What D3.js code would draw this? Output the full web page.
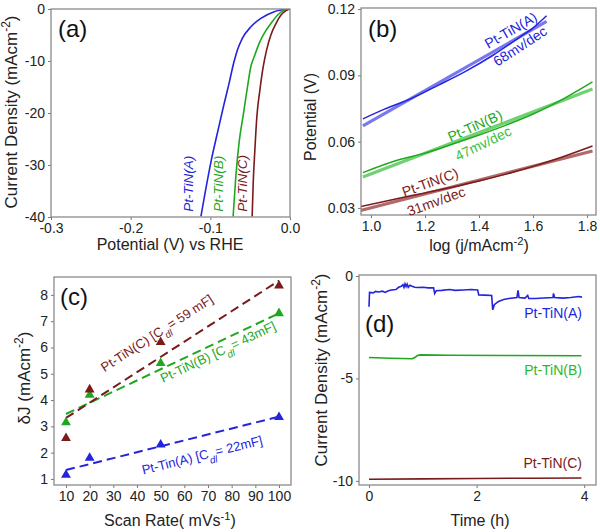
<!DOCTYPE html>
<html><head><meta charset="utf-8">
<script src="https://cdn.jsdelivr.net/npm/d3@7"></script>
<style>
body{margin:0;background:#fff}
text{font-family:"Liberation Sans",Arial,Helvetica,sans-serif}
</style></head><body>
<svg id="fig" width="600" height="532"></svg>
<script>
// ---------- DATA ----------
const series = ["Pt-TiN(A)", "Pt-TiN(B)", "Pt-TiN(C)"];
const colors = ["#2424dc", "#1ea81e", "#7a1a1a"];
const fitColors = ["#7878f0", "#72d072", "#b06a6a"];

// (a) LSV polarization curves: [potential V, current density mA/cm2]
const lsvA = [[-0.1118,-39.9],[-0.1059,-34.8],[-0.0987,-29],[-0.0912,-23.9],[-0.0836,-18.8],[-0.0765,-14.3],[-0.0702,-10.1],[-0.066,-7.9],[-0.0597,-5.6],[-0.049,-3.4],[-0.0366,-1.8],[-0.0198,-0.51],[-0.0029,0]];
const lsvB = [[-0.0714,-39.9],[-0.068,-32.2],[-0.064,-25.8],[-0.0584,-20.1],[-0.0534,-15.0],[-0.0492,-11.1],[-0.045,-9.2],[-0.0387,-6.6],[-0.0324,-4.7],[-0.024,-2.8],[-0.0155,-1.15],[-0.0071,-0.19],[-0.0009,0]];
const lsvC = [[-0.0475,-39.9],[-0.0462,-33.5],[-0.0441,-27.1],[-0.0416,-20.7],[-0.0378,-15.6],[-0.0336,-11.1],[-0.0294,-7.9],[-0.024,-5.0],[-0.0176,-2.8],[-0.0113,-1.15],[-0.005,-0.32],[0,0]];
const aXTicks = [-0.3,-0.2,-0.1,0.0];
const aYTicks = [0,-10,-20,-30,-40];

// (b) Tafel plots: measured [log j, V] and linear fits
const tafelA = [[0.97,0.0703],[1.05,0.0747],[1.15,0.0796],[1.25,0.0856],[1.35,0.0918],[1.45,0.0990],[1.55,0.1072],[1.6,0.1115],[1.65,0.1170]];
const tafelB = [[0.97,0.046],[1.1,0.0517],[1.2,0.0548],[1.3,0.0588],[1.4,0.0630],[1.5,0.0675],[1.6,0.0725],[1.7,0.0786],[1.82,0.0871]];
const tafelC = [[0.96,0.0306],[1.1,0.0343],[1.2,0.0368],[1.3,0.0394],[1.4,0.0422],[1.5,0.0453],[1.6,0.0488],[1.7,0.0527],[1.82,0.0580]];
const fitA = [[0.97,0.0671],[1.65,0.1144]];
const fitB = [[0.97,0.0440],[1.82,0.0838]];
const fitC = [[0.96,0.0288],[1.82,0.0558]];
const tafelSlopes = ["68mv/dec","47mv/dec","31mv/dec"];
const bXTicks = [1.0,1.2,1.4,1.6,1.8];
const bYTicks = [0.03,0.06,0.09,0.12];

// (c) double-layer capacitance
const scanRates = [10,20,50,100];
const djA = [1.15,1.8,2.3,3.35];
const djB = [3.15,4.2,5.4,7.3];
const djC = [2.55,4.4,6.2,8.35];
const cdlFitA = [[10,1.34],[100,3.37]];
const cdlFitB = [[10,3.47],[100,7.30]];
const cdlFitC = [[10,3.32],[100,8.54]];
const cdlLabels = ["Pt-Tin(A) [C","Pt-TiN(B) [C","Pt-TiN(C) [C"];
const cdlValues = ["= 22mF]","= 43mF]","= 59 mF]"];
const cXTicks = [10,20,30,40,50,60,70,80,90,100];
const cYTicks = [1,2,3,4,5,6,7,8];

// (d) chronoamperometry stability: [time h, current density]
const stabA = [[0,-1.5],[0.01,-0.8],[0.08,-0.82],[0.12,-0.75],[0.18,-0.78],[0.25,-0.74],[0.3,-0.8],[0.36,-0.72],[0.42,-0.68],[0.5,-0.66],[0.55,-0.55],[0.6,-0.5],[0.63,-0.42],[0.65,-0.55],[0.67,-0.38],[0.69,-0.52],[0.71,-0.4],[0.73,-0.55],[0.76,-0.45],[0.8,-0.5],[0.85,-0.55],[0.9,-0.56],[1.0,-0.55],[1.1,-0.58],[1.2,-0.57],[1.22,-0.85],[1.25,-0.72],[1.35,-0.7],[1.5,-0.66],[1.6,-0.7],[1.75,-0.68],[1.9,-0.66],[2.02,-0.68],[2.04,-0.92],[2.15,-0.93],[2.28,-0.95],[2.3,-1.65],[2.33,-1.4],[2.4,-1.25],[2.5,-1.15],[2.6,-1.1],[2.75,-1.05],[2.77,-0.7],[2.79,-1.05],[2.9,-1.08],[2.95,-0.95],[2.97,-1.1],[3.1,-1.1],[3.25,-1.07],[3.42,-1.05],[3.43,-0.85],[3.45,-1.05],[3.6,-1.08],[3.75,-1.05],[3.9,-1.0],[3.96,-1.03]];
const stabB = [[0,-3.98],[0.4,-4.01],[0.8,-4.04],[0.85,-3.98],[0.9,-3.88],[0.95,-3.85],[1.5,-3.87],[2.5,-3.88],[3.95,-3.89]];
const stabC = [[0,-9.92],[1,-9.9],[2,-9.88],[3,-9.87],[3.95,-9.86]];
const dXTicks = [0,2,4];
const dYTicks = [0,-5,-10];

// ---------- DRAWING ----------
const svg = d3.select("#fig");
const TICKFS = "14px", TITLEFS = "16px";

function frame(x, y) {
  const [x0,x1] = x.range(), [y1,y0] = y.range();
  svg.append("rect").attr("x",x0).attr("y",y0).attr("width",x1-x0).attr("height",y1-y0)
    .attr("fill","none").attr("stroke","#8a8a8a").attr("stroke-width",1.3);
}
function axes(x, y, xt, yt, xf, yf) {
  const [x0] = x.range(), [y1] = y.range();
  const gx = svg.append("g").attr("transform",`translate(0,${y1})`)
    .call(d3.axisBottom(x).tickValues(xt).tickFormat(xf).tickSize(3).tickSizeOuter(0).tickPadding(3));
  const gy = svg.append("g").attr("transform",`translate(${x0},0)`)
    .call(d3.axisLeft(y).tickValues(yt).tickFormat(yf).tickSize(3).tickSizeOuter(0).tickPadding(3));
  [gx,gy].forEach(g=>{
    g.select("path.domain").remove();
    g.selectAll("line").attr("stroke","#777");
    g.selectAll("text").attr("fill","#222").style("font-size",TICKFS).style("font-family",'"Liberation Sans",Arial,sans-serif');
  });
}
function clip(id, x, y) {
  const [x0,x1] = x.range(), [y1,y0] = y.range();
  svg.append("clipPath").attr("id",id).append("rect").attr("x",x0).attr("y",y0).attr("width",x1-x0).attr("height",y1-y0);
  return svg.append("g").attr("clip-path",`url(#${id})`);
}
function supText(sel, parts) {
  parts.forEach(([t,k])=>{
    const ts = sel.append("tspan").text(t);
    if (k==="sup") ts.attr("baseline-shift","super").style("font-size","70%");
    if (k==="sub") ts.attr("baseline-shift","sub").style("font-size","75%").style("font-style","italic");
  });
  return sel;
}
function panelLabel(t, x, y) {
  svg.append("text").attr("x",x).attr("y",y).text(t).style("font-size","24px").attr("fill","#111");
}

// ---- (a)
{
  const x = d3.scaleLinear().domain([-0.3,0]).range([51,290]);
  const y = d3.scaleLinear().domain([-40,0]).range([217,9]);
  axes(x,y,aXTicks,aYTicks,d=>d.toFixed(1),d=>String(d));
  const g = clip("clipA",x,y);
  const line = d3.line().x(d=>x(d[0])).y(d=>y(d[1])).curve(d3.curveMonotoneX);
  [lsvA,lsvB,lsvC].forEach((s,i)=>{
    g.append("path").attr("d",line(s)).attr("fill","none").attr("stroke",colors[i]).attr("stroke-width",1.6);
  });
  frame(x,y);
  const labX = [-0.1218,-0.0841,-0.054];
  series.forEach((s,i)=>{
    svg.append("text").attr("transform",`translate(${x(labX[i])},${y(-39)}) rotate(-90)`)
      .text(s).attr("fill",colors[i]).style("font-size","13.5px").style("font-style","italic");
  });
  svg.append("text").attr("x",170).attr("y",250).attr("text-anchor","middle").style("font-size",TITLEFS).attr("fill","#222").text("Potential (V) vs RHE");
  supText(svg.append("text").attr("transform","translate(17,112) rotate(-90)").attr("text-anchor","middle").style("font-size","17px").attr("fill","#222"),
    [["Current Density (mAcm","n"],["-2","sup"],[")","n"]]);
  panelLabel("(a)",58,37);
}

// ---- (b)
{
  const x = d3.scaleLinear().domain([0.963,1.833]).range([361,596]);
  const y = d3.scaleLinear().domain([0.0268,0.1205]).range([215,8]);
  axes(x,y,bXTicks,bYTicks,d=>d.toFixed(1),d=>d.toFixed(2));
  const g = clip("clipB",x,y);
  const line = d3.line().x(d=>x(d[0])).y(d=>y(d[1])).curve(d3.curveMonotoneX);
  [fitA,fitB,fitC].forEach((s,i)=>{
    g.append("path").attr("d",line(s)).attr("fill","none").attr("stroke",fitColors[i]).attr("stroke-width",3.2);
  });
  [tafelA,tafelB,tafelC].forEach((s,i)=>{
    g.append("path").attr("d",line(s)).attr("fill","none").attr("stroke",colors[i]).attr("stroke-width",1.5);
  });
  frame(x,y);
  const nameLab = [[1.518,0.1104,-30],[1.385,0.0672,-24],[1.219,0.0416,-20]];
  const slopeLab = [[1.552,0.1032,-33],[1.415,0.0592,-26],[1.241,0.0330,-20]];
  const slopeCols = [colors[0],"#3cbf3c",colors[2]];
  series.forEach((s,i)=>{
    const [a,b,r]=nameLab[i];
    svg.append("text").attr("transform",`translate(${x(a)},${y(b)}) rotate(${r})`).attr("text-anchor","middle")
      .attr("dy","0.35em").text(s).attr("fill",colors[i]).style("font-size","14px");
    const [c,d,q]=slopeLab[i];
    svg.append("text").attr("transform",`translate(${x(c)},${y(d)}) rotate(${q})`).attr("text-anchor","middle")
      .attr("dy","0.35em").text(tafelSlopes[i]).attr("fill",slopeCols[i]).style("font-size","14px");
  });
  supText(svg.append("text").attr("x",479).attr("y",251).attr("text-anchor","middle").style("font-size",TITLEFS).attr("fill","#222"),
    [["log (j/mAcm","n"],["-2","sup"],[")","n"]]);
  svg.append("text").attr("transform","translate(316,117) rotate(-90)").attr("text-anchor","middle").style("font-size","16px").attr("fill","#222").text("Potential (V)");
  panelLabel("(b)",368,37);
}

// ---- (c)
{
  const x = d3.scaleLinear().domain([4.93,105.07]).range([54,291]);
  const y = d3.scaleLinear().domain([0.77,8.68]).range([485,277]);
  axes(x,y,cXTicks,cYTicks,d=>String(d),d=>String(d));
  const line = d3.line().x(d=>x(d[0])).y(d=>y(d[1]));
  const fits = [cdlFitA,cdlFitB,cdlFitC];
  const vals = [djA,djB,djC];
  fits.forEach((s,i)=>{
    svg.append("path").attr("d",line(s)).attr("fill","none").attr("stroke",colors[i]).attr("stroke-width",2).attr("stroke-dasharray","9,5");
  });
  const tri = d3.symbol().type(d3.symbolTriangle).size(42);
  vals.forEach((v,i)=>{
    svg.append("g").selectAll("path").data(scanRates).join("path")
      .attr("d",tri).attr("transform",(d,j)=>`translate(${x(d)},${y(v[j])})`).attr("fill",colors[i]);
  });
  frame(x,y);
  const labPos = [[67.5,1.91],[74.2,5.83],[48.4,6.55]];
  labPos.forEach(([a,b],i)=>{
    const f = fits[i];
    const ang = Math.atan2(y(f[1][1])-y(f[0][1]), x(f[1][0])-x(f[0][0]))*180/Math.PI;
    const t = svg.append("text").attr("transform",`translate(${x(a)},${y(b)}) rotate(${ang})`).attr("text-anchor","middle")
      .attr("dy","0.35em").attr("fill",colors[i]).style("font-size","13px");
    supText(t,[[cdlLabels[i],"n"],["dl","sub"],[cdlValues[i],"n"]]);
  });
  supText(svg.append("text").attr("x",170).attr("y",526).attr("text-anchor","middle").style("font-size",TITLEFS).attr("fill","#222"),
    [["Scan Rate( mVs","n"],["-1","sup"],[")","n"]]);
  supText(svg.append("text").attr("transform","translate(30,378) rotate(-90)").attr("text-anchor","middle").style("font-size","17px").attr("fill","#222"),
    [["δJ (mAcm","n"],["-2","sup"],[")","n"]]);
  panelLabel("(c)",60,305);
}

// ---- (d)
{
  const x = d3.scaleLinear().domain([-0.186,4.22]).range([359,596]);
  const y = d3.scaleLinear().domain([-10.2,0.05]).range([485,275]);
  axes(x,y,dXTicks,dYTicks,d=>String(d),d=>String(d));
  const g = clip("clipD",x,y);
  const line = d3.line().x(d=>x(d[0])).y(d=>y(d[1]));
  [stabA,stabB,stabC].forEach((s,i)=>{
    g.append("path").attr("d",line(s)).attr("fill","none").attr("stroke",colors[i]).attr("stroke-width",1.6);
  });
  frame(x,y);
  const labY = [-2.05,-4.85,-9.35];
  series.forEach((s,i)=>{
    svg.append("text").attr("x",x(3.96)).attr("y",y(labY[i])).attr("text-anchor","end").text(s)
      .attr("fill",i===1?"#2cb82c":colors[i]).style("font-size","14px");
  });
  svg.append("text").attr("x",480).attr("y",526).attr("text-anchor","middle").style("font-size",TITLEFS).attr("fill","#222").text("Time (h)");
  supText(svg.append("text").attr("transform","translate(327,370) rotate(-90)").attr("text-anchor","middle").style("font-size","17px").attr("fill","#222"),
    [["Current Density (mAcm","n"],["-2","sup"],[")","n"]]);
  panelLabel("(d)",365,332);
}
</script>
</body></html>
